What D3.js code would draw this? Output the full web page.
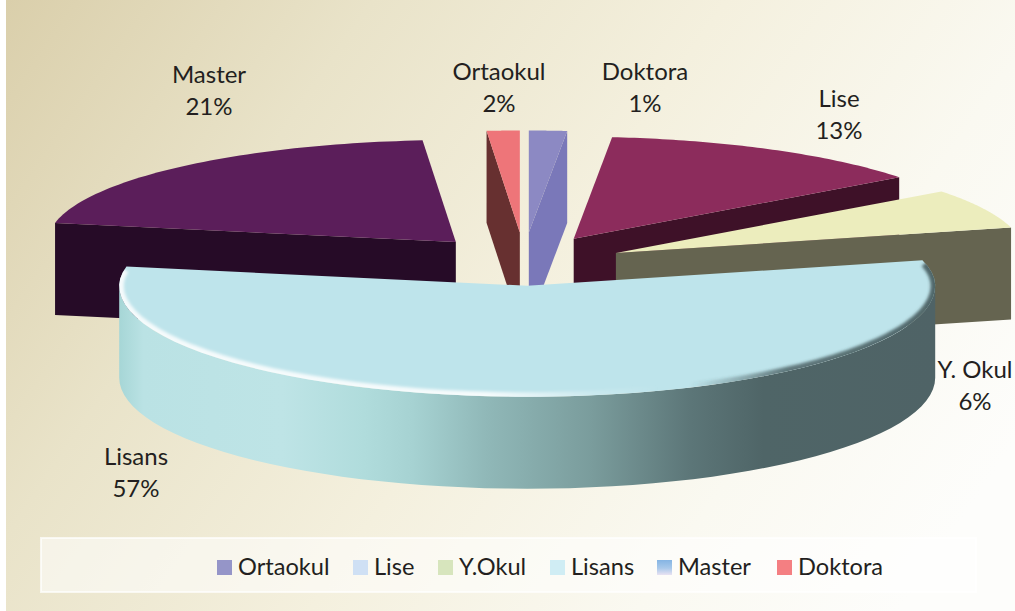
<!DOCTYPE html>
<html><head><meta charset="utf-8">
<script src="https://cdn.jsdelivr.net/npm/d3@7/dist/d3.min.js"></script>
<style>html,body{margin:0;padding:0;background:#fff}svg{display:block}text{font-family:Lato,"Open Sans",sans-serif;fill:#231F20}</style>
</head><body><div id="chart"></div>
<script>
const categories = ["Ortaokul","Lise","Y.Okul","Lisans","Master","Doktora"];
const values = [1.5,13.2,6.3,57,20.7,1.3];
const sliceLabels = ["Doktora\n1%","Lise\n13%","Y. Okul\n6%","Lisans\n57%","Master\n21%","Ortaokul\n2%"];
const topColors = ["#8C89C3","#8C2C5C","#ECEDBD","#BEE4EB","#5B1E5A","#EE7579"];
const wallColors = ["#7A78B9","#3E1128","#656450","#BEE4EB","#260B27","#673030"];
const legendColors = ["#9595C8","#CFE0F4","#D7E5BD","#D0EDF4","url(#legMaster)","#F47F82"];

const W=1015,H=611;
const cx=524,cy=258,rx=408,ryBack=102,ryFront=111,depth=92,explode=0.25;
const sliceDrop=[0,3,6,0,3,0];
const xS=d3.scaleLinear().domain([-1,1]).range([-rx,rx]);
const yS=d3.scaleLinear().domain([-1,0,1]).range([ryFront,0,-ryBack]);
const labelPos=[[645,80],[839,107],[975,378],[136,465],[209,83],[499,80]];
const legendX=[217,353,438,550,657,777];

const svg=d3.select("#chart").append("svg").attr("width",W).attr("height",H);
const defs=svg.append("defs");
function lin(id,x1,y1,x2,y2,stops){
  const g=defs.append("linearGradient").attr("id",id).attr("gradientUnits","userSpaceOnUse")
    .attr("x1",x1).attr("y1",y1).attr("x2",x2).attr("y2",y2);
  stops.forEach(s=>g.append("stop").attr("offset",s[0]).attr("stop-color",s[1]).attr("stop-opacity",s[2]==null?1:s[2]));
}
lin("bg",6,0,900,611,[[0,"#DACFAB"],[.28,"#E9E3C9"],[.55,"#F4F0DE"],[.8,"#FAF9F1"],[1,"#FDFDFB"]]);
lin("side",119,0,935,0,[[0,"#A6D6D6"],[.03,"#BAE2E4"],[.2,"#BEE4E6"],[.3,"#B0DCDC"],[.36,"#A6D2D2"],[.45,"#90B8B8"],[.58,"#7A9C9C"],[.7,"#5C7678"],[.79,"#4F6567"],[1,"#4F6366"]]);
lin("bevel",119,0,935,0,[[0,"#fff",.85],[.45,"#fff",.85],[.58,"#fff",.2],[.66,"#fff",0],[.7,"#36494b",0],[.82,"#36494b",.7],[1,"#36494b",.8]]);
lin("legMaster",0,560,0,576,[[0,"#85B4E3"],[.5,"#A8C8EA"],[1,"#F2E6F3"]]);
defs.append("filter").attr("id","soft").attr("x","-5%").attr("y","-5%").attr("width","110%").attr("height","110%")
  .append("feGaussianBlur").attr("stdDeviation",1.6);

svg.append("rect").attr("x",6).attr("y",0).attr("width",W-6).attr("height",H).attr("fill","url(#bg)");

const arcs=d3.pie().sort(null).value(d=>d)(values);
const line=d3.line();
const closed=d3.line().curve(d3.curveLinearClosed);
const samples=(a,b)=>d3.range(0,61).map(i=>a+(b-a)*i/60);

const slices=arcs.map((a,i)=>{
  const mid=(a.startAngle+a.endAngle)/2;
  const ax=cx+xS(explode*Math.sin(mid)), ay=cy+yS(explode*Math.cos(mid))+sliceDrop[i];
  const pt=(t,r=1)=>[ax+xS(r*Math.sin(t)), ay+yS(r*Math.cos(t))];
  return {i,a,mid,ax,ay,pt};
}).sort((p,q)=>Math.cos(q.mid)-Math.cos(p.mid));

const g=svg.append("g");
slices.forEach(s=>{
  const {i,a,pt,ax,ay}=s;
  const down=p=>[p[0],p[1]+depth];
  const wall=(t)=>{const o=pt(t);
    g.append("path").attr("d",closed([o,down(o),down([ax,ay]),[ax,ay]])).attr("fill",wallColors[i]);};
  const isFront=Math.cos(s.mid)<0;
  if(!isFront){
    if(Math.sin(s.mid)<0) wall(a.startAngle); else wall(a.endAngle);
  }
  const lo=Math.max(a.startAngle,Math.PI/2), hi=Math.min(a.endAngle,Math.PI*1.5);
  if(hi>lo){
    const rim=samples(lo,hi).map(t=>pt(t));
    g.append("path").attr("d",closed(rim.concat(rim.map(down).reverse()))).attr("fill","url(#side)");
  }
  const face=[[ax,ay]].concat(samples(a.startAngle,a.endAngle).map(t=>pt(t)));
  g.append("path").attr("d",closed(face)).attr("fill",topColors[i]);
  if(isFront){
    defs.append("clipPath").attr("id","faceClip").append("path").attr("d",closed(face));
    g.append("g").attr("clip-path","url(#faceClip)").append("path")
      .attr("d",line(samples(a.startAngle+0.03,a.endAngle-0.03).map(t=>pt(t,1))))
      .attr("fill","none").attr("stroke","url(#bevel)").attr("stroke-width",9).attr("filter","url(#soft)");
  }
});

sliceLabels.forEach((l,i)=>{
  const t=svg.append("text").attr("text-anchor","middle").attr("font-size",24);
  l.split("\n").forEach((s,j)=>t.append("tspan").attr("x",labelPos[i][0]).attr("y",labelPos[i][1]+j*32).text(s));
});

svg.append("rect").attr("x",41).attr("y",538).attr("width",935).attr("height",54)
  .attr("fill","#fff").attr("fill-opacity",.55).attr("stroke","#fff").attr("stroke-opacity",.7).attr("stroke-width",2);
categories.forEach((c,i)=>{
  svg.append("rect").attr("x",legendX[i]).attr("y",560).attr("width",15).attr("height",15).attr("fill",legendColors[i]);
  svg.append("text").attr("x",legendX[i]+21).attr("y",575).attr("font-size",23.6).text(c);
});
</script></body></html>
